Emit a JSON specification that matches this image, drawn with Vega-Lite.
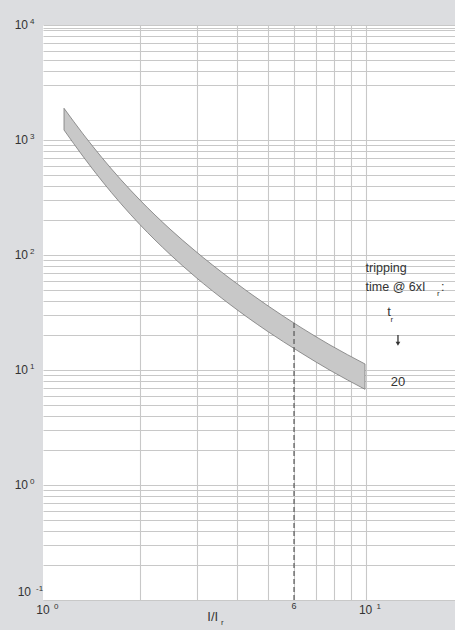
{
  "$schema": "https://vega.github.io/schema/vega-lite/v6.json",
  "width": 412,
  "height": 575,
  "autosize": {"type": "none"},
  "padding": {"left": 43, "top": 25, "right": 0, "bottom": 30},
  "background": "#dcdde0",
  "config": {
    "view": {"fill": "white", "stroke": null},
    "font": "Liberation Sans",
    "text": {"font": "Liberation Sans", "color": "#333333"},
    "axis": {"labels": false, "ticks": false, "domain": false, "grid": true, "gridColor": "#c8c8c8", "gridWidth": 1.1, "zindex": 1, "title": null}
  },
  "encoding": {
    "x": {"field": "x", "type": "quantitative", "scale": {"type": "log", "domain": [1, 18.93], "nice": false}, "axis": {"title": null, "values": [2, 3, 4, 5, 6, 7, 8, 9, 10]}},
    "y": {"field": "y", "type": "quantitative", "scale": {"type": "log", "domain": [0.1, 10000], "nice": false}, "axis": {"title": null, "values": [0.1, 0.2, 0.3, 0.4, 0.5, 0.6, 0.7, 0.8, 0.9, 1, 2, 3, 4, 5, 6, 7, 8, 9, 10, 20, 30, 40, 50, 60, 70, 80, 90, 100, 200, 300, 400, 500, 600, 700, 800, 900, 1000, 3000, 4000, 5000, 6000, 7000, 8000, 9000, 9500, 10000]}}
  },
  "layer": [
    {
      "data": {"values": [
        {"x": 1.1618, "y": 1886.8, "y2": 1221.8},
        {"x": 1.3305, "y": 1130.0, "y2": 720.4},
        {"x": 1.5235, "y": 701.9, "y2": 439.9},
        {"x": 1.7451, "y": 450.8, "y2": 278.7},
        {"x": 1.9985, "y": 300.2, "y2": 183.4},
        {"x": 2.4761, "y": 168.0, "y2": 101.2},
        {"x": 2.9596, "y": 108.8, "y2": 64.89},
        {"x": 3.799, "y": 62.47, "y2": 37.12},
        {"x": 4.9482, "y": 36.6, "y2": 21.84},
        {"x": 6.2609, "y": 23.71, "y2": 14.28},
        {"x": 7.7573, "y": 16.5, "y2": 9.94},
        {"x": 9.9573, "y": 11.28, "y2": 6.795}
      ]},
      "mark": {"type": "area", "interpolate": "monotone", "fill": "#c8c8c8", "stroke": "#7a7a7a", "strokeWidth": 0.8},
      "encoding": {"y2": {"field": "y2"}}
    },
    {
      "data": {"values": [{"x": 6, "y": 25.6, "y2": 0.1}]},
      "mark": {"type": "rule", "color": "#555555", "strokeDash": [5, 3], "strokeWidth": 1.2},
      "encoding": {"y2": {"field": "y2"}}
    },
    {
      "data": {"values": [{"x": 12.6, "y": 20.15, "y2": 17.3}]},
      "mark": {"type": "rule", "color": "#333333", "strokeWidth": 1.3},
      "encoding": {"y2": {"field": "y2"}}
    },
    {
      "data": {"values": [{"x": 12.6, "y": 16.9}]},
      "mark": {"type": "point", "shape": "triangle-down", "filled": true, "color": "#333333", "opacity": 1, "size": 22}
    },
    {
      "data": {"values": [
        {"x": 1, "y": 10000, "t": "10"},
        {"x": 1, "y": 1000, "t": "10"},
        {"x": 1, "y": 100, "t": "10"},
        {"x": 1, "y": 10, "t": "10"},
        {"x": 1, "y": 1, "t": "10"}
      ]},
      "mark": {"type": "text", "align": "right", "baseline": "middle", "dx": -15, "fontSize": 12},
      "encoding": {"text": {"field": "t"}}
    },
    {
      "data": {"values": [
        {"x": 1, "y": 10000, "t": "4"},
        {"x": 1, "y": 1000, "t": "3"},
        {"x": 1, "y": 100, "t": "2"},
        {"x": 1, "y": 10, "t": "1"},
        {"x": 1, "y": 1, "t": "0"}
      ]},
      "mark": {"type": "text", "align": "left", "baseline": "middle", "dx": -13, "dy": -3, "fontSize": 8},
      "encoding": {"text": {"field": "t"}}
    },
    {
      "data": {"values": [{"x": 1, "y": 0.1, "t": "10"}]},
      "mark": {"type": "text", "align": "right", "baseline": "middle", "dx": -12, "dy": -8, "fontSize": 12},
      "encoding": {"text": {"field": "t"}}
    },
    {
      "data": {"values": [{"x": 1, "y": 0.1, "t": "-1"}]},
      "mark": {"type": "text", "align": "left", "baseline": "middle", "dx": -7, "dy": -11, "fontSize": 8},
      "encoding": {"text": {"field": "t"}}
    },
    {
      "data": {"values": [{"x": 1, "y": 0.1, "t": "10"}, {"x": 10, "y": 0.1, "t": "10"}]},
      "mark": {"type": "text", "align": "center", "baseline": "middle", "dx": 0, "dy": 10, "fontSize": 12},
      "encoding": {"text": {"field": "t"}}
    },
    {
      "data": {"values": [{"x": 1, "y": 0.1, "t": "0"}, {"x": 10, "y": 0.1, "t": "1"}]},
      "mark": {"type": "text", "align": "left", "baseline": "middle", "dx": 11, "dy": 7, "fontSize": 8},
      "encoding": {"text": {"field": "t"}}
    },
    {
      "data": {"values": [{"x": 6, "y": 0.1, "t": "6"}]},
      "mark": {"type": "text", "align": "center", "baseline": "middle", "dy": 6, "fontSize": 9},
      "encoding": {"text": {"field": "t"}}
    },
    {
      "data": {"values": [{"x": 3.23, "y": 0.1, "t": "I/I"}]},
      "mark": {"type": "text", "align": "left", "baseline": "middle", "dy": 17, "fontSize": 13},
      "encoding": {"text": {"field": "t"}}
    },
    {
      "data": {"values": [{"x": 3.56, "y": 0.1, "t": "r"}]},
      "mark": {"type": "text", "align": "left", "baseline": "middle", "dy": 23, "fontSize": 8},
      "encoding": {"text": {"field": "t"}}
    },
    {
      "data": {"values": [
        {"x": 10, "y": 77, "t": "tripping"},
        {"x": 10, "y": 53, "t": "time @ 6xI"},
        {"x": 17.13, "y": 53, "t": ":"}
      ]},
      "mark": {"type": "text", "align": "left", "baseline": "middle", "fontSize": 12.5},
      "encoding": {"text": {"field": "t"}}
    },
    {
      "data": {"values": [
        {"x": 16.65, "y": 45.8, "t": "r"},
        {"x": 11.94, "y": 27.2, "t": "r"}
      ]},
      "mark": {"type": "text", "align": "left", "baseline": "middle", "fontSize": 8},
      "encoding": {"text": {"field": "t"}}
    },
    {
      "data": {"values": [
        {"x": 11.82, "y": 32.1, "t": "t"},
        {"x": 12.6, "y": 7.9, "t": "20"}
      ]},
      "mark": {"type": "text", "align": "center", "baseline": "middle", "fontSize": 13},
      "encoding": {"text": {"field": "t"}}
    }
  ]
}
